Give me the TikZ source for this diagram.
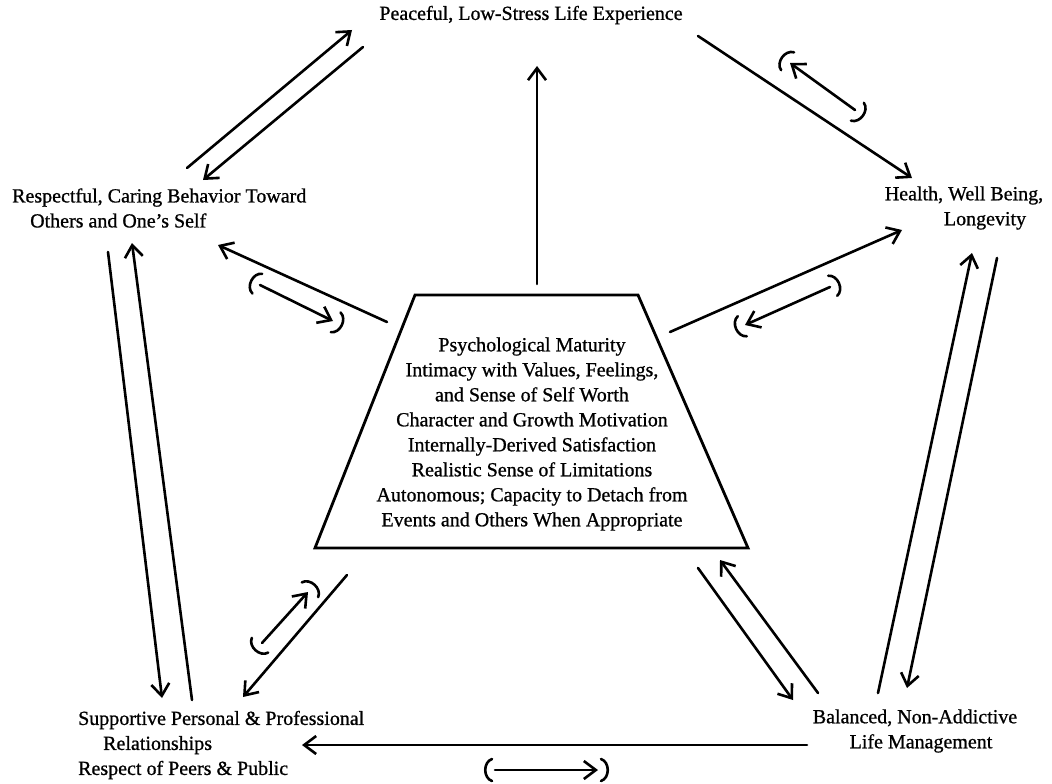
\documentclass[tikz,border=0pt]{standalone}
\usepackage{fontspec}
\setmainfont{Liberation Serif}
\newfontface\scanfont{Liberation Serif}[FakeBold=0.8]
\usetikzlibrary{arrows.meta,calc}
\tikzset{
  lbl/.style={font=\scanfont\fontsize{20}{25}\selectfont, inner sep=0pt},
  conn/.style={line width=2.6pt, line cap=round, -{Straight Barb[length=12pt,width=18pt,line width=2.6pt]}},
  trap/.style={line width=2.8pt, line join=miter},
  paren/.style={line width=2.6pt, line cap=round},
}
\newcommand\parenarrow[2]{%
  \draw[conn] (#1) -- (#2);
  \draw[paren] ($($(#1)!-3pt!(#2)$)!11pt!90:(#2)$)
     .. controls ($($(#1)!-12pt!(#2)$)!8pt!90:(#2)$) and ($($(#1)!-12pt!(#2)$)!8pt!-90:(#2)$)
     .. ($($(#1)!-3pt!(#2)$)!11pt!-90:(#2)$);
  \draw[paren] ($($(#2)!-3pt!(#1)$)!11pt!90:(#1)$)
     .. controls ($($(#2)!-12pt!(#1)$)!8pt!90:(#1)$) and ($($(#2)!-12pt!(#1)$)!8pt!-90:(#1)$)
     .. ($($(#2)!-3pt!(#1)$)!11pt!-90:(#1)$);
}
\begin{document}
\begin{tikzpicture}[x=1pt,y=-1pt]
\path[use as bounding box, fill=white] (0,0) rectangle (1052,784);

% nodes
\node[lbl] (top) at (531,15) {Peaceful, Low-Stress Life Experience};
\node[lbl, align=left, anchor=west] (resp) at (12,208) {Respectful, Caring Behavior Toward\\\hspace*{18pt}Others and One’s Self};
\node[lbl, align=center] (health) at (964,208) {Health, Well Being,\\\hspace*{42pt}Longevity};
\node[lbl, align=left, anchor=west] (supp) at (78,745) {Supportive Personal \& Professional\\\hspace*{25pt}Relationships\\Respect of Peers \& Public};
\node[lbl, align=center] (bal) at (915,731) {Balanced, Non-Addictive\\\hspace*{12pt}Life Management};

% trapezoid
\coordinate (tl) at (415,295);
\coordinate (tr) at (638,295);
\coordinate (br) at (748,548);
\coordinate (bl) at (315,548);
\draw[trap] (tl) -- (tr) -- (br) -- (bl) -- cycle;
\node[lbl, align=center] (core) at (532,434) {Psychological Maturity\\Intimacy with Values, Feelings,\\and Sense of Self Worth\\Character and Growth Motivation\\Internally-Derived Satisfaction\\Realistic Sense of Limitations\\Autonomous; Capacity to Detach from\\Events and Others When Appropriate};

% connector end points
\coordinate (a1) at (537,284);  \coordinate (a2) at (537,66);
\coordinate (b1) at (387,322);  \coordinate (b2) at (218,245);
\coordinate (c1) at (670,332);  \coordinate (c2) at (902,230);
\coordinate (d1) at (698,36);   \coordinate (d2) at (912,178);
\coordinate (e1) at (187,168);  \coordinate (e2) at (352,30);
\coordinate (e3) at (363,47);   \coordinate (e4) at (203,180);
\coordinate (f1) at (108,252);  \coordinate (f2) at (162,698);
\coordinate (f3) at (192,700);  \coordinate (f4) at (132,243);
\coordinate (g1) at (347,575);  \coordinate (g2) at (243,697);
\coordinate (h1) at (698,568);  \coordinate (h2) at (793,700);
\coordinate (h3) at (818,693);  \coordinate (h4) at (720,560);
\coordinate (i1) at (878,693);  \coordinate (i2) at (972,253);
\coordinate (i3) at (997,258);  \coordinate (i4) at (907,688);
\coordinate (j1) at (807,745);  \coordinate (j2) at (302,745);

\draw[conn] (a1) -- (a2);
\draw[conn] (b1) -- (b2);
\draw[conn] (c1) -- (c2);
\draw[conn] (d1) -- (d2);
\draw[conn] (e1) -- (e2);
\draw[conn] (e3) -- (e4);
\draw[conn] (f1) -- (f2);
\draw[conn] (f3) -- (f4);
\draw[conn] (g1) -- (g2);
\draw[conn] (h1) -- (h2);
\draw[conn] (h3) -- (h4);
\draw[conn] (i1) -- (i2);
\draw[conn] (i3) -- (i4);
\draw[conn] (j1) -- (j2);

% parenthesised arrows
\coordinate (pb1) at (260,285); \coordinate (pb2) at (333,321);
\coordinate (pc1) at (830,287); \coordinate (pc2) at (745,325);
\coordinate (pd1) at (855,110); \coordinate (pd2) at (790,63);
\coordinate (pg1) at (262,643); \coordinate (pg2) at (308,592);
\coordinate (pj1) at (495,770); \coordinate (pj2) at (598,770);
\parenarrow{pb1}{pb2}
\parenarrow{pc1}{pc2}
\parenarrow{pd1}{pd2}
\parenarrow{pg1}{pg2}
\parenarrow{pj1}{pj2}
\end{tikzpicture}
\end{document}
